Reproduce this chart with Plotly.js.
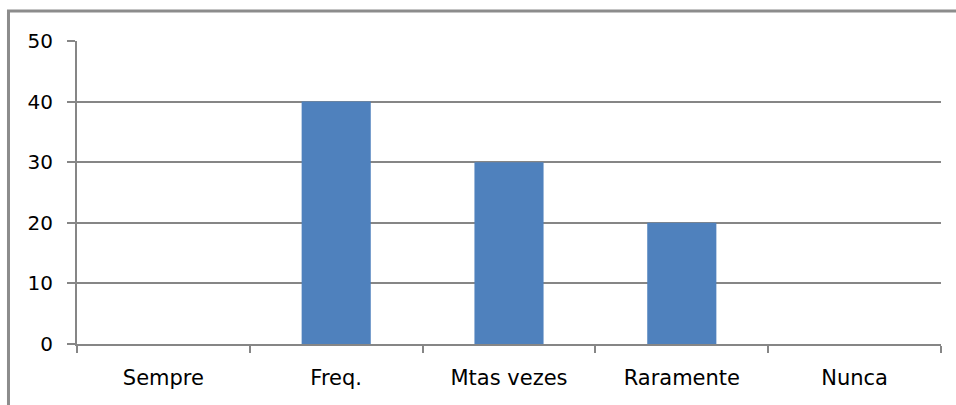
<!DOCTYPE html>
<html>
<head>
<meta charset="utf-8">
<script src="https://cdn.plot.ly/plotly-3.0.1.min.js"></script>
<style>
html,body{margin:0;padding:0;background:#fff;}
#chart{width:956px;height:405px;}
</style>
</head>
<body>
<div id="chart"></div>
<script>
const categories = ["Sempre", "Freq.", "Mtas vezes", "Raramente", "Nunca"];
const values = [0, 40, 30, 20, 0];
const yTicks = [0, 10, 20, 30, 40, 50];

const trace = {
  type: "bar",
  x: categories,
  y: values,
  marker: {color: "#4F81BD"},
  hoverinfo: "x+y"
};

const layout = {
  width: 956,
  height: 405,
  margin: {l: 77, r: 15, t: 41, b: 61},
  paper_bgcolor: "#ffffff",
  plot_bgcolor: "#ffffff",
  bargap: 0.6,
  showlegend: false,
  font: {family: "'DejaVu Sans', sans-serif", size: 20, color: "#000"},
  xaxis: {
    type: "category",
    showgrid: false,
    showline: true,
    linecolor: "#868686",
    linewidth: 2,
    ticks: "outside",
    tickson: "boundaries",
    ticklen: 7,
    tickcolor: "#868686",
    tickwidth: 2,
    ticklabelstandoff: 14,
    tickfont: {size: 21}
  },
  yaxis: {
    range: [0, 50],
    tickvals: yTicks,
    showgrid: true,
    gridcolor: "#868686",
    gridwidth: 2,
    zeroline: false,
    showline: true,
    linecolor: "#868686",
    linewidth: 2,
    ticks: "outside",
    ticklen: 8,
    tickcolor: "#868686",
    tickwidth: 2,
    ticklabelstandoff: 10,
    tickfont: {size: 20}
  },
  shapes: [{
    type: "rect",
    xref: "paper", yref: "paper",
    x0: -0.0793, x1: 1.2,
    y0: -0.5, y1: 1.099,
    line: {color: "#8c8c8c", width: 3},
    fillcolor: "rgba(0,0,0,0)",
    layer: "above"
  }]
};

Plotly.newPlot("chart", [trace], layout, {displayModeBar: false, staticPlot: true});
</script>
</body>
</html>
